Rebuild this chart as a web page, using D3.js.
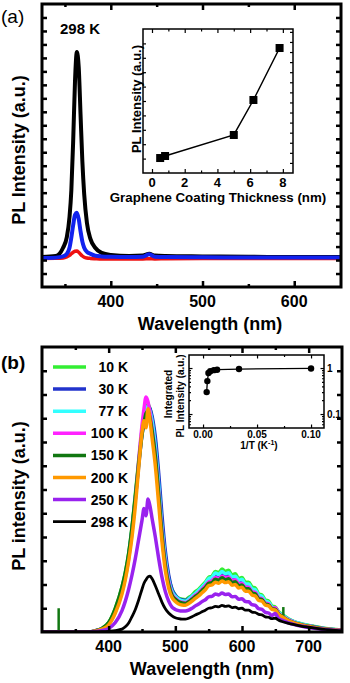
<!doctype html>
<html lang="en">
<head>
<meta charset="utf-8">
<title>PL spectra</title>
<script src="https://cdn.jsdelivr.net/npm/d3@7"></script>
<style>
  body { margin: 0; background: #fff; }
  svg { display: block; font-family: Arial, "Liberation Sans", sans-serif; }
  .frame { fill: none; stroke: #000; stroke-width: 3; }
  .iframe { fill: none; stroke: #000; stroke-width: 1.5; }
  .spec { fill: none; stroke-linejoin: round; stroke-linecap: round; }
  .bold { font-weight: bold; }
</style>
</head>
<body>
<script>
// ---- panel (a) : spectra at 298 K ----
var wlA = [325, 340, 348, 352, 355, 357, 359, 361, 363, 365, 367, 369, 371, 374, 378, 383, 390, 400, 420, 435, 442, 448, 460, 500, 550, 600, 651];
var blackA = [1.23, 1.3, 1.91, 2.68, 4.2, 6.19, 9.86, 14.3, 16.43, 15.36, 11.85, 8.33, 5.9, 3.75, 2.53, 1.91, 1.53, 1.38, 1.3, 1.33, 1.46, 1.33, 1.3, 1.27, 1.24, 1.23, 1.23];
var blueA = [1.15, 1.18, 1.27, 1.46, 1.91, 2.68, 3.6, 4.36, 4.51, 4.05, 3.14, 2.37, 1.91, 1.61, 1.46, 1.33, 1.27, 1.24, 1.22, 1.25, 1.43, 1.25, 1.22, 1.2, 1.19, 1.18, 1.18];
var redA = [1.12, 1.13, 1.16, 1.24, 1.35, 1.47, 1.58, 1.65, 1.67, 1.58, 1.43, 1.3, 1.21, 1.15, 1.12, 1.1, 1.08, 1.08, 1.08, 1.08, 1.1, 1.08, 1.1, 1.12, 1.12, 1.12, 1.12];

// inset (a): PL vs graphene thickness
var thickness = [0.5, 0.8, 5.0, 6.2, 7.8];
var thickPL = [1.04, 1.18, 2.64, 5.07, 8.68];

// ---- panel (b) : temperature series ----
var wlB = [300, 370, 380, 390, 400, 410, 420, 425, 430, 435, 440, 445, 450, 453, 456, 459, 462, 465, 470, 475,
           480, 485, 490, 495, 500, 505, 510, 515, 520, 525, 530, 535, 540, 545, 550, 555, 560, 565, 570, 575,
           580, 585, 590, 595, 600, 605, 610, 615, 620, 625, 630, 635, 640, 645, 650, 655, 660, 670, 680, 690,
           700, 720, 750];
var temps = ["10 K", "30 K", "77 K", "100 K", "150 K", "200 K", "250 K", "298 K"];
var pl10 = [0, 0, 0.05, 0.15, 0.4, 1.0, 1.9, 2.5, 3.3, 4.4, 5.8, 7.2, 8.5, 9.1, 9.4, 9.6, 9.4, 9.0, 8.0, 6.4,
            4.6, 3.2, 2.3, 1.8, 1.55, 1.42, 1.38, 1.36, 1.45, 1.55, 1.7, 1.8, 1.95, 2.1, 2.3, 2.35, 2.55, 2.5, 2.65, 2.55,
            2.6, 2.4, 2.45, 2.25, 2.3, 2.1, 2.1, 1.9, 1.85, 1.6, 1.55, 1.35, 1.3, 1.1, 1.05, 0.85, 0.75, 0.55, 0.42, 0.34,
            0.28, 0.17, 0.08];
var pl30 = [0, 0, 0.05, 0.15, 0.35, 0.9, 1.8, 2.4, 3.2, 4.3, 5.6, 7.0, 8.3, 8.9, 9.3, 9.5, 9.4, 9.1, 8.2, 6.7,
            4.9, 3.4, 2.4, 1.8, 1.55, 1.4, 1.35, 1.33, 1.4, 1.5, 1.62, 1.72, 1.88, 2.0, 2.2, 2.25, 2.4, 2.35, 2.45, 2.38,
            2.42, 2.25, 2.3, 2.1, 2.15, 1.95, 1.95, 1.75, 1.72, 1.5, 1.45, 1.25, 1.2, 1.02, 0.98, 0.8, 0.7, 0.52, 0.4, 0.32,
            0.26, 0.16, 0.07];
var pl77 = [0, 0, 0.04, 0.13, 0.35, 0.9, 1.8, 2.4, 3.2, 4.3, 5.6, 7.1, 8.5, 9.1, 9.4, 9.5, 9.3, 8.9, 7.8, 6.2,
            4.4, 3.1, 2.2, 1.7, 1.5, 1.38, 1.32, 1.3, 1.38, 1.5, 1.62, 1.75, 1.9, 2.05, 2.25, 2.3, 2.48, 2.42, 2.55, 2.45,
            2.5, 2.32, 2.35, 2.18, 2.22, 2.02, 2.02, 1.82, 1.78, 1.55, 1.5, 1.3, 1.25, 1.05, 1.0, 0.82, 0.72, 0.53, 0.41, 0.33,
            0.27, 0.16, 0.08];
var pl100 = [0, 0, 0.04, 0.12, 0.32, 0.85, 1.7, 2.3, 3.1, 4.2, 5.6, 7.2, 8.7, 9.4, 9.9, 9.7, 9.2, 8.6, 7.5, 5.9,
             4.2, 2.9, 2.1, 1.6, 1.42, 1.3, 1.25, 1.23, 1.3, 1.42, 1.55, 1.65, 1.8, 1.95, 2.1, 2.15, 2.3, 2.25, 2.35, 2.28,
             2.32, 2.15, 2.2, 2.02, 2.05, 1.88, 1.88, 1.7, 1.66, 1.45, 1.4, 1.22, 1.18, 1.0, 1.02, 0.78, 0.68, 0.5, 0.38, 0.3,
             0.25, 0.15, 0.07];
var pl150 = [0, 0, 0.05, 0.15, 0.4, 1.0, 1.9, 2.5, 3.3, 4.4, 5.7, 7.1, 8.3, 8.8, 9.2, 9.3, 9.0, 8.5, 7.4, 5.8,
             4.1, 2.8, 2.0, 1.55, 1.38, 1.27, 1.22, 1.2, 1.27, 1.38, 1.5, 1.6, 1.75, 1.88, 2.05, 2.08, 2.22, 2.18, 2.28, 2.2,
             2.24, 2.08, 2.12, 1.95, 1.98, 1.82, 1.82, 1.65, 1.6, 1.4, 1.36, 1.18, 1.14, 0.98, 0.95, 0.76, 0.66, 0.48, 0.37, 0.3,
             0.24, 0.15, 0.07];
var pl200 = [0, 0, 0.04, 0.12, 0.3, 0.8, 1.6, 2.2, 3.0, 4.0, 5.3, 6.9, 8.4, 8.9, 8.6, 9.4, 8.9, 8.2, 7.0, 5.4,
             3.8, 2.6, 1.85, 1.45, 1.28, 1.18, 1.14, 1.13, 1.2, 1.3, 1.42, 1.52, 1.65, 1.78, 1.95, 1.98, 2.1, 2.05, 2.15, 2.08,
             2.12, 1.97, 2.0, 1.85, 1.88, 1.72, 1.72, 1.56, 1.52, 1.33, 1.3, 1.13, 1.1, 0.95, 0.92, 0.74, 0.64, 0.47, 0.36, 0.29,
             0.23, 0.14, 0.07];
var pl250 = [0, 0, 0.02, 0.06, 0.15, 0.4, 0.9, 1.3, 1.8, 2.4, 3.1, 3.9, 4.7, 5.2, 4.9, 5.6, 5.3, 4.8, 4.0, 3.1,
             2.3, 1.7, 1.3, 1.05, 0.95, 0.9, 0.88, 0.88, 0.92, 1.0, 1.1, 1.18, 1.28, 1.36, 1.48, 1.5, 1.6, 1.56, 1.64, 1.58,
             1.6, 1.48, 1.5, 1.38, 1.4, 1.28, 1.27, 1.15, 1.12, 0.98, 0.95, 0.83, 0.8, 0.7, 0.78, 0.56, 0.5, 0.38, 0.3, 0.24,
             0.19, 0.12, 0.06];
var pl298 = [0, 0, 0, 0.01, 0.03, 0.06, 0.12, 0.22, 0.38, 0.65, 0.95, 1.35, 1.8, 2.05, 2.2, 2.32, 2.35, 2.25, 1.95, 1.6,
             1.25, 0.98, 0.8, 0.68, 0.6, 0.56, 0.54, 0.54, 0.58, 0.64, 0.72, 0.78, 0.85, 0.92, 1.0, 1.02, 1.08, 1.06, 1.12, 1.08,
             1.1, 1.03, 1.05, 0.98, 1.0, 0.92, 0.92, 0.84, 0.82, 0.74, 0.72, 0.64, 0.62, 0.56, 0.58, 0.5, 0.44, 0.36, 0.3, 0.24,
             0.2, 0.12, 0.05];
var series = [pl10, pl30, pl77, pl100, pl150, pl200, pl250, pl298];
var colors = ["#33ee33", "#2233cc", "#33ffff", "#ff22ff", "#117711", "#ff9900", "#9922ee", "#000000"];

// laser lines in the 150 K trace
var spikeWl = [325, 662];
var spikeBase = [0, 0.62];
var spikeTop = [1.0, 1.05];

// inset (b): integrated PL vs 1/T
var invT = [0.00336, 0.004, 0.005, 0.00667, 0.01, 0.013, 0.0333, 0.1];
var intPL = [0.30, 0.52, 0.78, 0.85, 0.90, 0.92, 0.95, 0.98];

var W = 350, H = 683;
var svg = d3.select("body").append("svg").attr("width", W).attr("height", H);

function ticks(g, axisFn, scale, vals, len, tx, ty, sw) {
    g.append("g")
     .attr("transform", "translate(" + tx + "," + ty + ")")
     .call(axisFn(scale).tickValues(vals).tickSize(-len).tickFormat(""))
     .call(function(s) { s.select(".domain").remove(); })
     .selectAll("line").attr("stroke", "#000").attr("stroke-width", sw);
}

// ================= panel (a) =================
var ax = d3.scaleLinear().domain([325, 651]).range([42, 341]);
var ay = d3.scaleLinear().domain([-1, 20]).range([287, 4]);

svg.append("clipPath").attr("id", "clipA")
   .append("rect").attr("x", 42).attr("y", 4).attr("width", 299).attr("height", 283);

var lineA = function(ys) {
    return d3.line().x(function(d, i) { return ax(wlA[i]); })
                    .y(function(d) { return ay(d); })
                    .curve(d3.curveMonotoneX)(ys);
};
var gA = svg.append("g").attr("clip-path", "url(#clipA)");
gA.append("path").attr("class", "spec").attr("d", lineA(blackA)).attr("stroke", "#000").attr("stroke-width", 4);
gA.append("path").attr("class", "spec").attr("d", lineA(redA)).attr("stroke", "#ee1111").attr("stroke-width", 3.5);
gA.append("path").attr("class", "spec").attr("d", lineA(blueA)).attr("stroke", "#1122ee").attr("stroke-width", 4);

ticks(svg, d3.axisBottom, ax, [400, 500, 600], 6, 0, 287, 2.5);
ticks(svg, d3.axisBottom, ax, [350, 450, 550], 3, 0, 287, 2.5);
ticks(svg, d3.axisTop, ax, [400, 500, 600], 6, 0, 4, 2.5);
ticks(svg, d3.axisTop, ax, [350, 450, 550], 3, 0, 4, 2.5);
ticks(svg, d3.axisLeft, ay, d3.range(0, 20), 5, 42, 0, 2.5);
ticks(svg, d3.axisRight, ay, d3.range(0, 20), 5, 341, 0, 2.5);
svg.append("rect").attr("class", "frame").attr("x", 42).attr("y", 4).attr("width", 299).attr("height", 283);

svg.selectAll(".xlabA").data([400, 500, 600]).enter().append("text")
   .attr("class", "bold").attr("x", function(d) { return ax(d); }).attr("y", 307)
   .attr("text-anchor", "middle").attr("font-size", 16).text(function(d) { return d; });
svg.append("text").attr("class", "bold").attr("x", 210).attr("y", 330).attr("text-anchor", "middle")
   .attr("font-size", 18).text("Wavelength (nm)");
svg.append("text").attr("class", "bold").attr("transform", "translate(25,150) rotate(-90)")
   .attr("text-anchor", "middle").attr("font-size", 18).text("PL Intensity (a.u.)");
svg.append("text").attr("x", 1).attr("y", 23).attr("font-size", 19).text("(a)");
svg.append("text").attr("class", "bold").attr("x", 60).attr("y", 34).attr("font-size", 15).text("298 K");

// inset (a)
var ix = d3.scaleLinear().domain([-0.55, 8.62]).range([143, 293]);
var iy = d3.scaleLinear().domain([0, 10]).range([173, 29]);
svg.append("rect").attr("x", 143).attr("y", 29).attr("width", 150).attr("height", 144).attr("fill", "#fff");
ticks(svg, d3.axisBottom, ix, [0, 2, 4, 6, 8], 4, 0, 173, 1.2);
ticks(svg, d3.axisBottom, ix, [1, 3, 5, 7], 2.5, 0, 173, 1.2);
ticks(svg, d3.axisTop, ix, [0, 2, 4, 6, 8], 4, 0, 29, 1.2);
ticks(svg, d3.axisTop, ix, [1, 3, 5, 7], 2.5, 0, 29, 1.2);
ticks(svg, d3.axisLeft, iy, d3.range(1, 10), 3, 143, 0, 1.2);
ticks(svg, d3.axisRight, iy, d3.range(0.7, 10, 0.7), 3, 293, 0, 1.2);
svg.append("rect").attr("class", "iframe").attr("x", 143).attr("y", 29).attr("width", 150).attr("height", 144);

var insetLine = d3.line().x(function(d, i) { return ix(thickness[i]); }).y(function(d) { return iy(d); });
svg.append("path").attr("d", insetLine(thickPL)).attr("fill", "none").attr("stroke", "#000").attr("stroke-width", 1.5);
svg.selectAll(".sq").data(thickPL).enter().append("rect")
   .attr("x", function(d, i) { return ix(thickness[i]) - 4; })
   .attr("y", function(d) { return iy(d) - 4; })
   .attr("width", 8).attr("height", 8).attr("fill", "#000");

svg.selectAll(".ixl").data([0, 2, 4, 6, 8]).enter().append("text")
   .attr("class", "bold").attr("x", function(d) { return ix(d); }).attr("y", 187)
   .attr("text-anchor", "middle").attr("font-size", 13).text(function(d) { return d; });
svg.append("text").attr("class", "bold").attr("x", 218).attr("y", 202).attr("text-anchor", "middle")
   .attr("font-size", 13.3).text("Graphene Coating Thickness (nm)");
svg.append("text").attr("class", "bold").attr("transform", "translate(141,99) rotate(-90)")
   .attr("text-anchor", "middle").attr("font-size", 13).text("PL Intensity (a.u.)");

// ================= panel (b) =================
var bx = d3.scaleLinear().domain([300, 750]).range([42, 342]);
var by = d3.scaleLinear().domain([0, 12]).range([632, 347]);

svg.append("clipPath").attr("id", "clipB")
   .append("rect").attr("x", 42).attr("y", 347).attr("width", 300).attr("height", 285);

var lineB = d3.line().x(function(d, i) { return bx(wlB[i]); })
                     .y(function(d) { return by(d); })
                     .curve(d3.curveMonotoneX);
var gB = svg.append("g").attr("clip-path", "url(#clipB)");
series.forEach(function(s, k) {
    gB.append("path").attr("class", "spec").attr("d", lineB(s))
      .attr("stroke", colors[k]).attr("stroke-width", k === 7 ? 2.8 : 3.5);
    if (k === 4) {
        spikeWl.forEach(function(w, j) {
            gB.append("line").attr("x1", bx(w)).attr("x2", bx(w))
              .attr("y1", by(spikeBase[j])).attr("y2", by(spikeTop[j]))
              .attr("stroke", colors[4]).attr("stroke-width", 2.5);
        });
    }
});

ticks(svg, d3.axisBottom, bx, [400, 500, 600, 700], 6, 0, 632, 2.5);
ticks(svg, d3.axisBottom, bx, [350, 450, 550, 650], 3, 0, 632, 2.5);
ticks(svg, d3.axisTop, bx, [400, 500, 600, 700], 6, 0, 347, 2.5);
ticks(svg, d3.axisTop, bx, [350, 450, 550, 650], 3, 0, 347, 2.5);
ticks(svg, d3.axisLeft, by, d3.range(1, 12), 5, 42, 0, 2.5);
ticks(svg, d3.axisRight, by, d3.range(1, 12), 5, 342, 0, 2.5);
svg.append("rect").attr("class", "frame").attr("x", 42).attr("y", 347).attr("width", 300).attr("height", 285);

svg.selectAll(".xlabB").data([400, 500, 600, 700]).enter().append("text")
   .attr("class", "bold").attr("x", function(d) { return bx(d); }).attr("y", 652)
   .attr("text-anchor", "middle").attr("font-size", 16).text(function(d) { return d; });
svg.append("text").attr("class", "bold").attr("x", 202).attr("y", 675).attr("text-anchor", "middle")
   .attr("font-size", 18).text("Wavelength (nm)");
svg.append("text").attr("class", "bold").attr("transform", "translate(25,496) rotate(-90)")
   .attr("text-anchor", "middle").attr("font-size", 18).text("PL intensity (a.u.)");
svg.append("text").attr("class", "bold").attr("x", 1).attr("y", 369).attr("font-size", 19).text("(b)");

// legend
var leg = svg.append("g");
temps.forEach(function(t, k) {
    var yy = 367 + k * 22.1;
    leg.append("line").attr("x1", 53).attr("x2", 86).attr("y1", yy).attr("y2", yy)
       .attr("stroke", colors[k]).attr("stroke-width", k === 7 ? 2.8 : 3.5);
    leg.append("text").attr("class", "bold").attr("x", 128).attr("y", yy + 5)
       .attr("text-anchor", "end").attr("font-size", 14).text(t);
});

// inset (b)
var jx = d3.scaleLinear().domain([-0.013, 0.112]).range([189, 324]);
var jy = d3.scaleLog().domain([0.0497, 1.92]).range([428, 355]);
svg.append("rect").attr("x", 189).attr("y", 355).attr("width", 135).attr("height", 73).attr("fill", "#fff");
ticks(svg, d3.axisBottom, jx, [0, 0.05, 0.1], 3.5, 0, 428, 1.2);
ticks(svg, d3.axisBottom, jx, [0.025, 0.075], 2, 0, 428, 1.2);
ticks(svg, d3.axisTop, jx, [0, 0.05, 0.1], 3.5, 0, 355, 1.2);
ticks(svg, d3.axisTop, jx, [0.025, 0.075], 2, 0, 355, 1.2);
var minorLog = [0.06, 0.07, 0.08, 0.09, 0.2, 0.3, 0.4, 0.5, 0.6, 0.7, 0.8, 0.9];
ticks(svg, d3.axisLeft, jy, [0.1, 1], 3.5, 189, 0, 1.2);
ticks(svg, d3.axisLeft, jy, minorLog, 2, 189, 0, 1.2);
ticks(svg, d3.axisRight, jy, [0.1, 1], 3.5, 324, 0, 1.2);
ticks(svg, d3.axisRight, jy, minorLog, 2, 324, 0, 1.2);
svg.append("rect").attr("class", "iframe").attr("x", 189).attr("y", 355).attr("width", 135).attr("height", 73);

var intLine = d3.line().x(function(d, i) { return jx(invT[i]); }).y(function(d) { return jy(d); });
svg.append("path").attr("d", intLine(intPL)).attr("fill", "none").attr("stroke", "#000").attr("stroke-width", 1.3);
svg.selectAll(".dot").data(intPL).enter().append("circle")
   .attr("cx", function(d, i) { return jx(invT[i]); }).attr("cy", function(d) { return jy(d); })
   .attr("r", 3.2).attr("fill", "#000");

svg.selectAll(".jxl").data([0, 0.05, 0.1]).enter().append("text")
   .attr("class", "bold").attr("x", function(d) { return jx(d); }).attr("y", 438)
   .attr("text-anchor", "middle").attr("font-size", 10).text(function(d) { return d.toFixed(2); });
svg.selectAll(".jyl").data([1, 0.1]).enter().append("text")
   .attr("class", "bold").attr("x", 327).attr("y", function(d) { return jy(d) + 4; })
   .attr("font-size", 10).text(function(d) { return d; });
var tl = svg.append("text").attr("class", "bold").attr("x", 259).attr("y", 449)
   .attr("text-anchor", "middle").attr("font-size", 10);
tl.append("tspan").text("1/T (K");
tl.append("tspan").attr("dy", -4).attr("font-size", 7).text("-1");
tl.append("tspan").attr("dy", 4).text(")");
svg.append("text").attr("class", "bold").attr("transform", "translate(172,394) rotate(-90)")
   .attr("text-anchor", "middle").attr("font-size", 10).text("Integrated");
svg.append("text").attr("class", "bold").attr("transform", "translate(184,396) rotate(-90)")
   .attr("text-anchor", "middle").attr("font-size", 10).text("PL Intensity (a.u.)");
</script>
</body>
</html>
